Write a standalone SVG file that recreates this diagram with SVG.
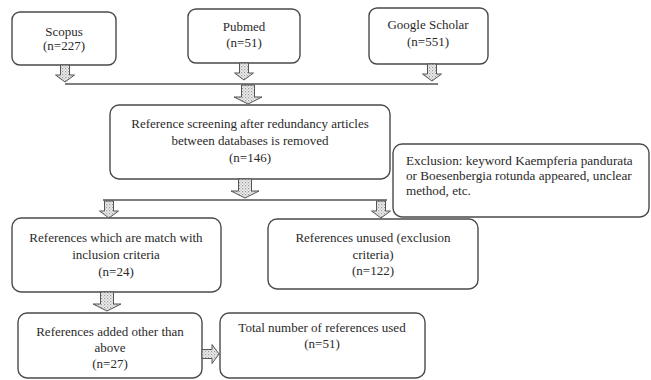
<svg xmlns="http://www.w3.org/2000/svg" xmlns:xlink="http://www.w3.org/1999/xlink" width="651" height="380" viewBox="0 0 651 380">
<defs>
<pattern id="dots" width="3" height="3" patternUnits="userSpaceOnUse">
<rect width="3" height="3" fill="#eeeeee"/>
<rect x="0" y="0" width="1.2" height="1.2" fill="#9a9a9a"/>
<rect x="1.5" y="1.5" width="1.2" height="1.2" fill="#b5b5b5"/>
</pattern>
<path id="dn" d="M-4.5,0 H4.5 V10 H9.5 L0,17 L-9.5,10 H-4.5 Z"/>
<path id="dnL" d="M-6.5,0 H6.5 V12 H14 L0,19 L-14,12 H-6.5 Z"/>
<path id="rt" d="M0,-4.5 V4.5 H10 V9.5 L17,0 L10,-9.5 V-4.5 Z"/>
</defs>
<style>
.box{fill:#fff;stroke:#4a4a4a;stroke-width:1.4}
.arr{fill:url(#dots);stroke:#555;stroke-width:1}
.ln{stroke:#555;stroke-width:1.4;fill:none}
text{font-family:"Liberation Serif","DejaVu Serif","Times New Roman",serif;font-size:13px;fill:#2a2a2a}
.c{text-anchor:middle}
.ex{font-size:13.2px}
</style>
<rect width="651" height="380" fill="#fff"/>
<g id="scopus"><rect class="box" x="12" y="12" width="104" height="53" rx="8"/><text class="c" x="64" y="36">Scopus</text><text class="c" x="64" y="50">(n=227)</text></g>
<g id="pubmed"><rect class="box" x="188" y="9" width="112" height="54" rx="8"/><text class="c" x="244" y="31">Pubmed</text><text class="c" x="244" y="47">(n=51)</text></g>
<g id="google"><rect class="box" x="369" y="8" width="119" height="56" rx="8"/><text class="c" x="428" y="29">Google Scholar</text><text class="c" x="428" y="46">(n=551)</text></g>
<g id="screening"><rect class="box" x="110" y="105" width="280" height="74" rx="9"/><text class="c" x="250" y="128">Reference screening after redundancy articles</text><text class="c" x="250" y="145">between databases is removed</text><text class="c" x="250" y="162">(n=146)</text></g>
<g id="exclusion"><rect class="box" x="393" y="144" width="256" height="73" rx="9"/><text class="ex" x="406" y="165">Exclusion: keyword Kaempferia pandurata</text><text class="ex" x="406" y="180">or Boesenbergia rotunda appeared, unclear</text><text class="ex" x="406" y="195">method, etc.</text></g>
<g id="included"><rect class="box" x="12" y="218" width="209" height="74" rx="9"/><text class="c" x="116" y="242">References which are match with</text><text class="c" x="116" y="259">inclusion criteria</text><text class="c" x="116" y="276">(n=24)</text></g>
<g id="unused"><rect class="box" x="268" y="219" width="210" height="70" rx="9"/><text class="c" x="373" y="242">References unused (exclusion</text><text class="c" x="373" y="259">criteria)</text><text class="c" x="373" y="275">(n=122)</text></g>
<g id="added"><rect class="box" x="18" y="313" width="184" height="65" rx="9"/><text class="c" x="110" y="336">References added other than</text><text class="c" x="110" y="352">above</text><text class="c" x="110" y="368">(n=27)</text></g>
<g id="total"><rect class="box" x="220" y="313" width="205" height="65" rx="9"/><text class="c" x="322" y="332">Total number of references used</text><text class="c" x="322" y="348">(n=51)</text></g>
<g id="connectors">
<path class="ln" d="M65,84 H438"/>
<path class="ln" d="M103,200 H387"/>
<use href="#dn" class="arr" x="65" y="65"/>
<use href="#dn" class="arr" x="244" y="63"/>
<use href="#dn" class="arr" x="432" y="64"/>
<use href="#dnL" class="arr" x="248" y="85"/>
<use href="#dnL" class="arr" x="245" y="179"/>
<use href="#dn" class="arr" x="109" y="201"/>
<use href="#dn" class="arr" x="381" y="201"/>
<use href="#dnL" class="arr" x="107" y="292"/>
<use href="#rt" class="arr" x="202" y="354"/>
</g>
</svg>
